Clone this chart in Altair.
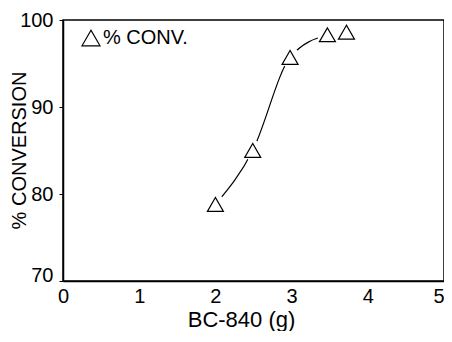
import altair as alt
import pandas as pd

bc840 = [2.0, 2.49, 2.98, 3.47, 3.72]
conversion = [78.8, 85.0, 95.7, 98.3, 98.6]
curve_x = [2.0, 2.49, 2.98, 3.47]
curve_y = [78.8, 85.0, 95.7, 98.3]
x_ticks = [0, 1, 2, 3, 4, 5]
y_ticks = [70, 80, 90, 100]

pts = pd.DataFrame({"x": bc840, "y": conversion})
cur = pd.DataFrame({"x": curve_x, "y": curve_y})

NARROW = "Liberation Sans Narrow, Liberation Sans"
FONT = "Liberation Sans"

xs = alt.Scale(domain=[0, 5], nice=False)
ys = alt.Scale(domain=[70, 100], nice=False)

x_axis = alt.Axis(values=x_ticks, format="d", title="BC-840 (g)", ticks=False,
                  labelFlush=False,
                  labelAlign=alt.ExprRef("datum.value == 5 ? 'right' : 'center'"),
                  labelPadding=5, titleBaseline="alphabetic", titleY=45,
                  titleX=178, titleAlign="center", titleFontSize=22, grid=False)
y_axis = alt.Axis(values=y_ticks, format="d", title="% CONVERSION", ticks=True, tickSize=4,
                  tickColor="black", tickWidth=1, labelPadding=6,
                  labelBaseline=alt.ExprRef("datum.value == 70 ? 'alphabetic' : 'middle'"),
                  titleX=-34, titleY=130, grid=False)

line = alt.Chart(cur).mark_line(interpolate="monotone", color="black", strokeWidth=1.2).encode(
    x=alt.X("x:Q", scale=xs, axis=x_axis),
    y=alt.Y("y:Q", scale=ys, axis=y_axis),
)

halo = alt.Chart(pts).mark_point(shape="circle", filled=True, color="white", opacity=1, size=420).encode(
    x=alt.X("x:Q", scale=xs), y=alt.Y("y:Q", scale=ys)
)

tri = alt.Chart(pts).mark_point(shape="triangle-up", filled=False, color="black",
                                strokeWidth=1.2, size=256, opacity=1).encode(
    x=alt.X("x:Q", scale=xs), y=alt.Y("y:Q", scale=ys)
)

leg_tri = alt.Chart(pd.DataFrame({"a": [0]})).mark_point(
    shape="triangle-up", filled=False, color="black", strokeWidth=1.2, size=324, opacity=1
).encode(x=alt.value(28), y=alt.value(18))

leg_txt = alt.Chart(pd.DataFrame({"t": ["% CONV."]})).mark_text(
    align="left", baseline="middle", font=FONT, fontSize=20, color="black"
).encode(x=alt.value(40), y=alt.value(18), text="t:N")

chart = alt.layer(line, halo, tri, leg_tri, leg_txt).properties(
    width=381, height=261,
    autosize=alt.AutoSizeParams(type="none"),
    padding={"left": 55, "top": 12, "right": 0, "bottom": 50},
).configure_view(stroke="black", strokeWidth=1.5).configure_axis(
    domainColor="black", domainWidth=1.5,
    labelFont=NARROW, labelFontSize=20, labelColor="black",
    titleFont=FONT, titleFontSize=20, titleFontWeight="normal", titleColor="black",
)

chart.save("out.html", embed_options={"renderer": "svg", "actions": False})
